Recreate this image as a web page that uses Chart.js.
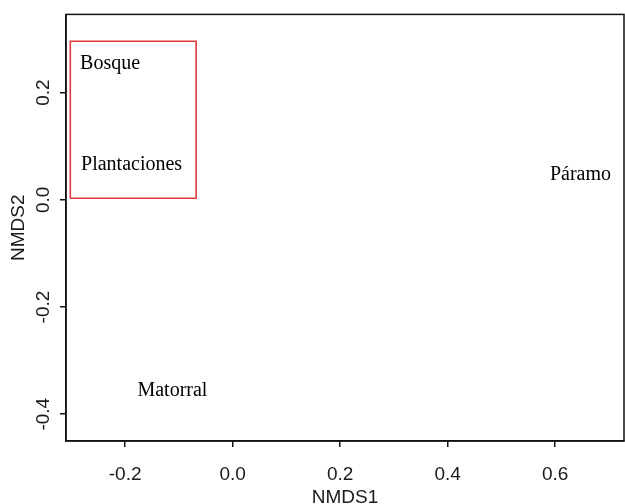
<!DOCTYPE html>
<html>
<head>
<meta charset="utf-8">
<script src="https://cdn.jsdelivr.net/npm/chart.js@4.4.1/dist/chart.umd.min.js"></script>
<style>
  html,body{margin:0;padding:0;background:#fff}
  canvas{display:block}
</style>
</head>
<body>
<canvas id="c" width="625" height="504"></canvas>
<script>
// sites (NMDS scores)
const siteNames = ['Bosque', 'Plantaciones', 'Páramo', 'Matorral'];
const nmds1 = [-0.228, -0.188, 0.647, -0.112];
const nmds2 = [0.254, 0.066, 0.046, -0.357];

// red box around Bosque + Plantaciones
const boxX = [-0.302, -0.068, -0.068, -0.302, -0.302];
const boxY = [0.003, 0.003, 0.296, 0.296, 0.003];

const xTicks = [-0.2, 0.0, 0.2, 0.4, 0.6];
const yTicks = [-0.4, -0.2, 0.0, 0.2];
const xRange = [-0.31, 0.728];
const yRange = [-0.45, 0.346];

const sans = 'Liberation Sans, Arial, sans-serif';
const serif = 'Liberation Serif, Times New Roman, serif';

const frame = {
    id:'frame',
    afterDraw(chart){
        const {ctx, chartArea:a} = chart;
        ctx.save();
        ctx.strokeStyle='#111'; ctx.lineWidth=1.5;
        ctx.strokeRect(a.left, a.top, a.right-a.left, a.bottom-a.top);
        // y tick labels, rotated like R
        const ys = chart.scales.y;
        ctx.fillStyle='#1a1a1a';
        ctx.font='19px '+sans;
        ctx.textAlign='center'; ctx.textBaseline='middle';
        ys.ticks.forEach(t=>{
            const py = ys.getPixelForValue(t.value);
            ctx.save();
            ctx.translate(44, py);
            ctx.rotate(-Math.PI/2);
            ctx.fillText(t.value.toFixed(1), 0, 0);
            ctx.restore();
        });
        // site names at their points
        const meta = chart.getDatasetMeta(0);
        ctx.fillStyle='#000';
        ctx.font='20px '+serif;
        meta.data.forEach((p,i)=>ctx.fillText(siteNames[i], p.x, p.y));
        ctx.restore();
    }
};

new Chart(document.getElementById('c'), {
    type:'scatter',
    data:{
        datasets:[
            { data: nmds1.map((x,i)=>({x, y:nmds2[i]})), pointRadius:0, pointHoverRadius:0 },
            { data: boxX.map((x,i)=>({x, y:boxY[i]})), showLine:true, borderColor:'#e03a3a', borderWidth:1.6, pointRadius:0, fill:false }
        ]
    },
    options:{
        responsive:false,
        animation:false,
        events:[],
        layout:{ padding:{ top:12, right:1, left:0, bottom:0 } },
        plugins:{ legend:{display:false}, tooltip:{enabled:false} },
        scales:{
            x:{
                type:'linear', min:xRange[0], max:xRange[1],
                afterBuildTicks:(s)=>{ s.ticks = xTicks.map(v=>({value:v})); },
                afterFit:(s)=>{ s.height = 63; },
                grid:{ drawOnChartArea:false, drawTicks:true, tickLength:6, color:'#111', lineWidth:1.5 },
                border:{ display:true, color:'#111', width:1.5 },
                ticks:{ color:'#1a1a1a', padding:16, font:{family:sans, size:19}, callback:(v)=>Number(v).toFixed(1), maxRotation:0 },
                title:{ display:true, text:'NMDS1', color:'#1a1a1a', font:{family:sans, size:19, lineHeight:1}, padding:{top:0, bottom:-3} }
            },
            y:{
                type:'linear', min:yRange[0], max:yRange[1],
                afterBuildTicks:(s)=>{ s.ticks = yTicks.map(v=>({value:v})); },
                afterFit:(s)=>{ s.width = 66; },
                grid:{ drawOnChartArea:false, drawTicks:true, tickLength:6, color:'#111', lineWidth:1.5 },
                border:{ display:true, color:'#111', width:1.5 },
                ticks:{ color:'rgba(0,0,0,0)', font:{family:sans, size:19} },
                title:{ display:true, text:'NMDS2', color:'#1a1a1a', font:{family:sans, size:19, lineHeight:1}, padding:{top:9, bottom:0} }
            }
        }
    },
    plugins:[frame]
});
</script>
</body>
</html>
